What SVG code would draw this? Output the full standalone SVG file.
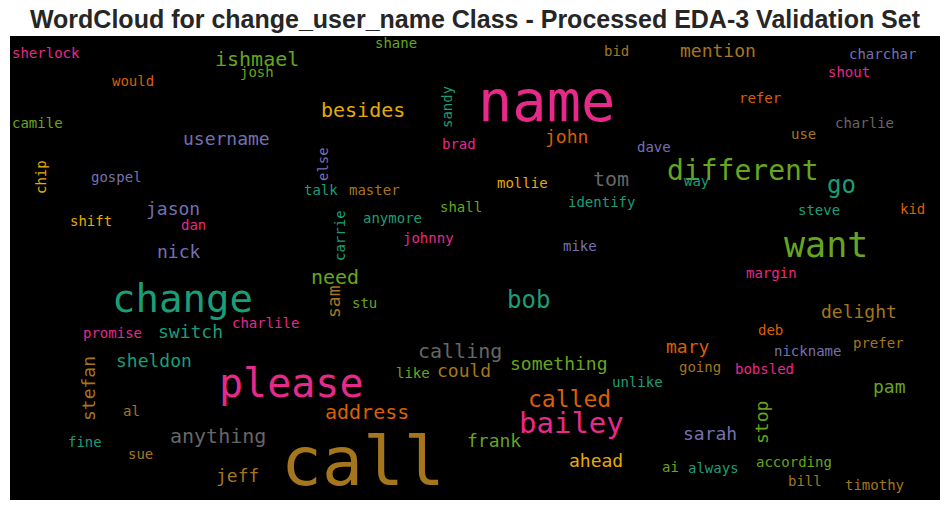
<svg xmlns="http://www.w3.org/2000/svg" width="950" height="511" viewBox="0 0 950 511">
<style>
text.w{font-family:"DejaVu Sans Mono","Liberation Mono",monospace}
.title{font-family:"Liberation Sans",Arial,sans-serif;font-weight:bold;font-size:25px;fill:#262626}
.t{fill:#1b9e77}.o{fill:#d95f02}.p{fill:#7570b3}.k{fill:#e7298a}.g{fill:#66a61e}.y{fill:#e6ab02}.b{fill:#a6761d}.r{fill:#666666}
</style>
<rect width="950" height="511" fill="#ffffff"/>
<text class="title" x="475" y="28" text-anchor="middle">WordCloud for change_user_name Class - Processed EDA-3 Validation Set</text>
<rect x="10" y="36" width="930" height="464" fill="#000000"/>
<g id="words">
<text class="w b" x="281" y="485" font-size="68">call</text>
<text class="w k" x="478" y="121" font-size="57">name</text>
<text class="w k" x="219" y="397" font-size="40">please</text>
<text class="w t" x="112" y="312" font-size="39">change</text>
<text class="w g" x="784" y="257" font-size="35">want</text>
<text class="w g" x="667" y="180" font-size="28">different</text>
<text class="w k" x="519" y="433" font-size="29">bailey</text>
<text class="w o" x="528" y="407" font-size="23">called</text>
<text class="w t" x="827" y="193" font-size="24">go</text>
<text class="w t" x="507" y="308" font-size="24">bob</text>
<text class="w r" x="593" y="186" font-size="20">tom</text>
<text class="w g" x="215" y="66" font-size="20">ishmael</text>
<text class="w y" x="321" y="117" font-size="20">besides</text>
<text class="w g" x="311" y="284" font-size="20">need</text>
<text class="w r" x="418" y="358" font-size="20">calling</text>
<text class="w o" x="325" y="419" font-size="20">address</text>
<text class="w r" x="170" y="443" font-size="20">anything</text>
<text class="w p" x="183" y="145" font-size="18">username</text>
<text class="w b" x="680" y="57" font-size="18">mention</text>
<text class="w o" x="545" y="143" font-size="18">john</text>
<text class="w p" x="146" y="215" font-size="18">jason</text>
<text class="w p" x="157" y="258" font-size="18">nick</text>
<text class="w t" x="158" y="338" font-size="18">switch</text>
<text class="w t" x="116" y="367" font-size="18">sheldon</text>
<text class="w b" x="216" y="482" font-size="18">jeff</text>
<text class="w g" x="510" y="370" font-size="18">something</text>
<text class="w b" x="437" y="377" font-size="18">could</text>
<text class="w g" x="467" y="447" font-size="18">frank</text>
<text class="w y" x="569" y="467" font-size="18">ahead</text>
<text class="w o" x="666" y="353" font-size="18">mary</text>
<text class="w g" x="873" y="393" font-size="18">pam</text>
<text class="w p" x="683" y="440" font-size="18">sarah</text>
<text class="w b" x="821" y="318" font-size="18">delight</text>
<text class="w b" font-size="18" transform="translate(95,421) rotate(-90)">stefan</text>
<text class="w g" font-size="18" transform="translate(768,444) rotate(-90)">stop</text>
<text class="w b" font-size="18" transform="translate(340,318) rotate(-90)">sam</text>
<text class="w k" x="12" y="58" font-size="14">sherlock</text>
<text class="w g" x="240" y="77" font-size="14">josh</text>
<text class="w o" x="112" y="86" font-size="14">would</text>
<text class="w g" x="12" y="128" font-size="14">camile</text>
<text class="w p" x="91" y="182" font-size="14">gospel</text>
<text class="w y" font-size="14" transform="translate(46,194) rotate(-90)">chip</text>
<text class="w g" x="375" y="48" font-size="14">shane</text>
<text class="w b" x="604" y="56" font-size="14">bid</text>
<text class="w t" font-size="14" transform="translate(452,128) rotate(-90)">sandy</text>
<text class="w k" x="442" y="149" font-size="14">brad</text>
<text class="w p" font-size="14" transform="translate(328,181) rotate(-90)">else</text>
<text class="w y" x="497" y="188" font-size="14">mollie</text>
<text class="w b" x="349" y="195" font-size="14">master</text>
<text class="w t" x="304" y="195" font-size="14">talk</text>
<text class="w p" x="849" y="59" font-size="14">charchar</text>
<text class="w k" x="828" y="77" font-size="14">shout</text>
<text class="w o" x="739" y="103" font-size="14">refer</text>
<text class="w r" x="835" y="128" font-size="14">charlie</text>
<text class="w b" x="791" y="139" font-size="14">use</text>
<text class="w p" x="637" y="152" font-size="14">dave</text>
<text class="w t" x="684" y="186" font-size="14">way</text>
<text class="w y" x="70" y="226" font-size="14">shift</text>
<text class="w k" x="181" y="230" font-size="14">dan</text>
<text class="w k" x="232" y="328" font-size="14">charlile</text>
<text class="w k" x="83" y="338" font-size="14">promise</text>
<text class="w g" x="440" y="212" font-size="14">shall</text>
<text class="w t" x="568" y="207" font-size="14">identify</text>
<text class="w t" x="363" y="223" font-size="14">anymore</text>
<text class="w t" font-size="14" transform="translate(345,261) rotate(-90)">carrie</text>
<text class="w k" x="403" y="243" font-size="14">johnny</text>
<text class="w p" x="563" y="251" font-size="14">mike</text>
<text class="w g" x="352" y="308" font-size="14">stu</text>
<text class="w t" x="798" y="215" font-size="14">steve</text>
<text class="w o" x="900" y="214" font-size="14">kid</text>
<text class="w k" x="746" y="278" font-size="14">margin</text>
<text class="w o" x="758" y="335" font-size="14">deb</text>
<text class="w b" x="123" y="416" font-size="14">al</text>
<text class="w t" x="68" y="447" font-size="14">fine</text>
<text class="w b" x="128" y="459" font-size="14">sue</text>
<text class="w g" x="396" y="378" font-size="14">like</text>
<text class="w t" x="612" y="387" font-size="14">unlike</text>
<text class="w p" x="774" y="356" font-size="14">nickname</text>
<text class="w b" x="853" y="348" font-size="14">prefer</text>
<text class="w b" x="679" y="372" font-size="14">going</text>
<text class="w k" x="735" y="374" font-size="14">bobsled</text>
<text class="w g" x="756" y="467" font-size="14">according</text>
<text class="w g" x="662" y="472" font-size="14">ai</text>
<text class="w t" x="688" y="473" font-size="14">always</text>
<text class="w b" x="788" y="486" font-size="14">bill</text>
<text class="w b" x="845" y="490" font-size="14">timothy</text>
</g>
</svg>
